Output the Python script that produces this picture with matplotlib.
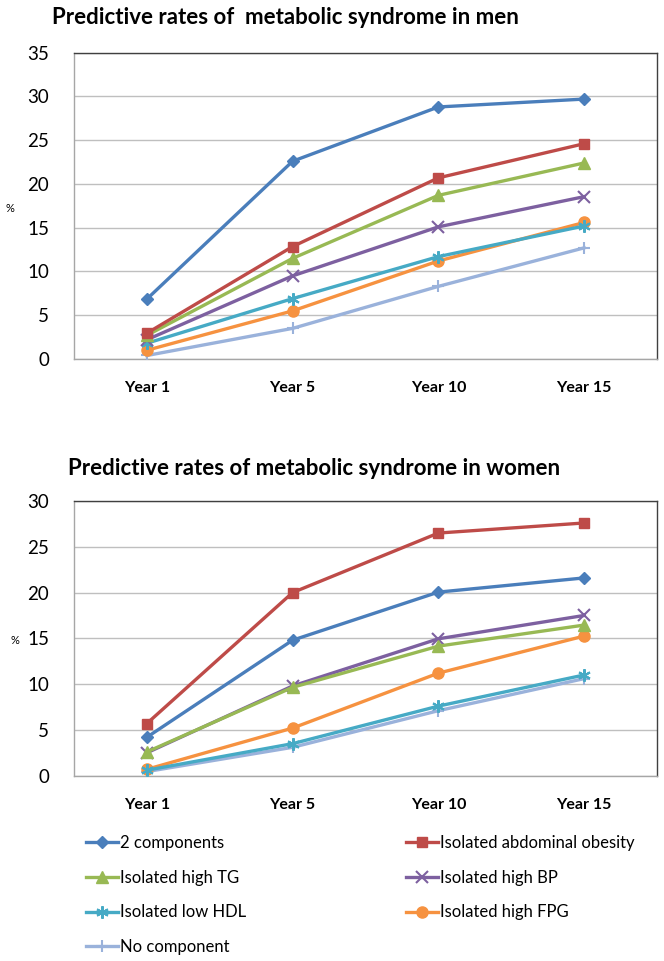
import matplotlib
matplotlib.use("Agg")
import matplotlib.pyplot as plt

years = ["Year 1", "Year 5", "Year 10", "Year 15"]
series_names = ["2 components", "Isolated abdominal obesity", "Isolated high TG",
                "Isolated high BP", "Isolated low HDL", "Isolated high FPG", "No component"]

men_2comp = [6.85, 22.6, 28.8, 29.7]
men_abd = [2.95, 12.85, 20.7, 24.6]
men_tg = [2.7, 11.5, 18.7, 22.4]
men_bp = [2.2, 9.5, 15.1, 18.55]
men_hdl = [1.8, 6.9, 11.7, 15.2]
men_fpg = [1.0, 5.5, 11.2, 15.6]
men_none = [0.4, 3.5, 8.3, 12.7]

women_2comp = [4.2, 14.8, 20.05, 21.6]
women_abd = [5.7, 20.0, 26.5, 27.6]
women_tg = [2.6, 9.65, 14.15, 16.45]
women_bp = [2.5, 9.8, 14.95, 17.5]
women_hdl = [0.6, 3.5, 7.6, 11.0]
women_fpg = [0.7, 5.2, 11.2, 15.25]
women_none = [0.45, 3.1, 7.1, 10.6]

colors = ["#4A7EBB", "#BE4B48", "#98B954", "#7D60A0", "#46AAC5", "#F69240", "#9AB2DB"]
markers = ["D", "s", "^", "x", (6, 2, 0), "o", "+"]
msizes = [6, 7, 8, 8, 9, 8, 8]

plt.rcParams['font.family'] = ['Lato', 'DejaVu Sans']

fig = plt.figure(figsize=(6.64, 9.61), dpi=100)
W, H = 664, 961

def make_axes(top_px, bottom_px, data, ymax, title, title_x, title_y, pct_x, pct_y):
    ax = fig.add_axes([74 / W, 1 - bottom_px / H, (657 - 74) / W, (bottom_px - top_px) / H])
    x = list(range(len(years)))
    for i, vals in enumerate(data):
        ax.plot(x, vals, color=colors[i], lw=2.4, marker=markers[i], ms=msizes[i],
                mec=colors[i], mfc=colors[i], mew=1.5 if i in (3, 4, 6) else 1,
                label=series_names[i], zorder=3 + (6 - i) * 0.1)
    ax.set_xlim(-0.5, 3.5)
    ax.set_ylim(0, ymax)
    ax.set_yticks(range(0, ymax + 1, 5))
    ax.set_xticks(x)
    ax.set_xticklabels(years, fontweight='bold', fontsize=11.5)
    ax.tick_params(axis='y', length=0, pad=18, labelsize=13.5)
    ax.tick_params(axis='x', length=0, pad=16)
    ax.grid(axis='y', color='#BFBFBF', lw=1)
    ax.set_axisbelow(True)
    ax.spines['left'].set_color('#A6A6A6')
    ax.spines['bottom'].set_color('#A6A6A6')
    ax.spines['top'].set_color('#404040')
    ax.spines['right'].set_color('#404040')
    for s in ax.spines.values():
        s.set_linewidth(1)
    fig.text(title_x / W, 1 - title_y / H, title, fontsize=16, fontweight='bold',
             ha='left', va='center')
    fig.text(pct_x / W, 1 - pct_y / H, "%", fontsize=8, ha='center', va='center')
    return ax

men = [men_2comp, men_abd, men_tg, men_bp, men_hdl, men_fpg, men_none]
women = [women_2comp, women_abd, women_tg, women_bp, women_hdl, women_fpg, women_none]

ax1 = make_axes(52.7, 359, men, 35, "Predictive rates of  metabolic syndrome in men", 52, 18, 10, 208)
ax2 = make_axes(501, 775.7, women, 30, "Predictive rates of metabolic syndrome in women", 68, 468, 15, 640)

handles, labels = ax2.get_legend_handles_labels()
order = [0, 2, 4, 6, 1, 3, 5]
fig.legend([handles[i] for i in order], [labels[i] for i in order],
           loc='upper left', bbox_to_anchor=(86 / W, 1 - 835 / H), ncol=2,
           frameon=False, fontsize=12, handlelength=1.9, handletextpad=0.15,
           labelspacing=1.12, columnspacing=9.6, borderpad=0, borderaxespad=0)

fig.savefig("out.png", dpi=100)
